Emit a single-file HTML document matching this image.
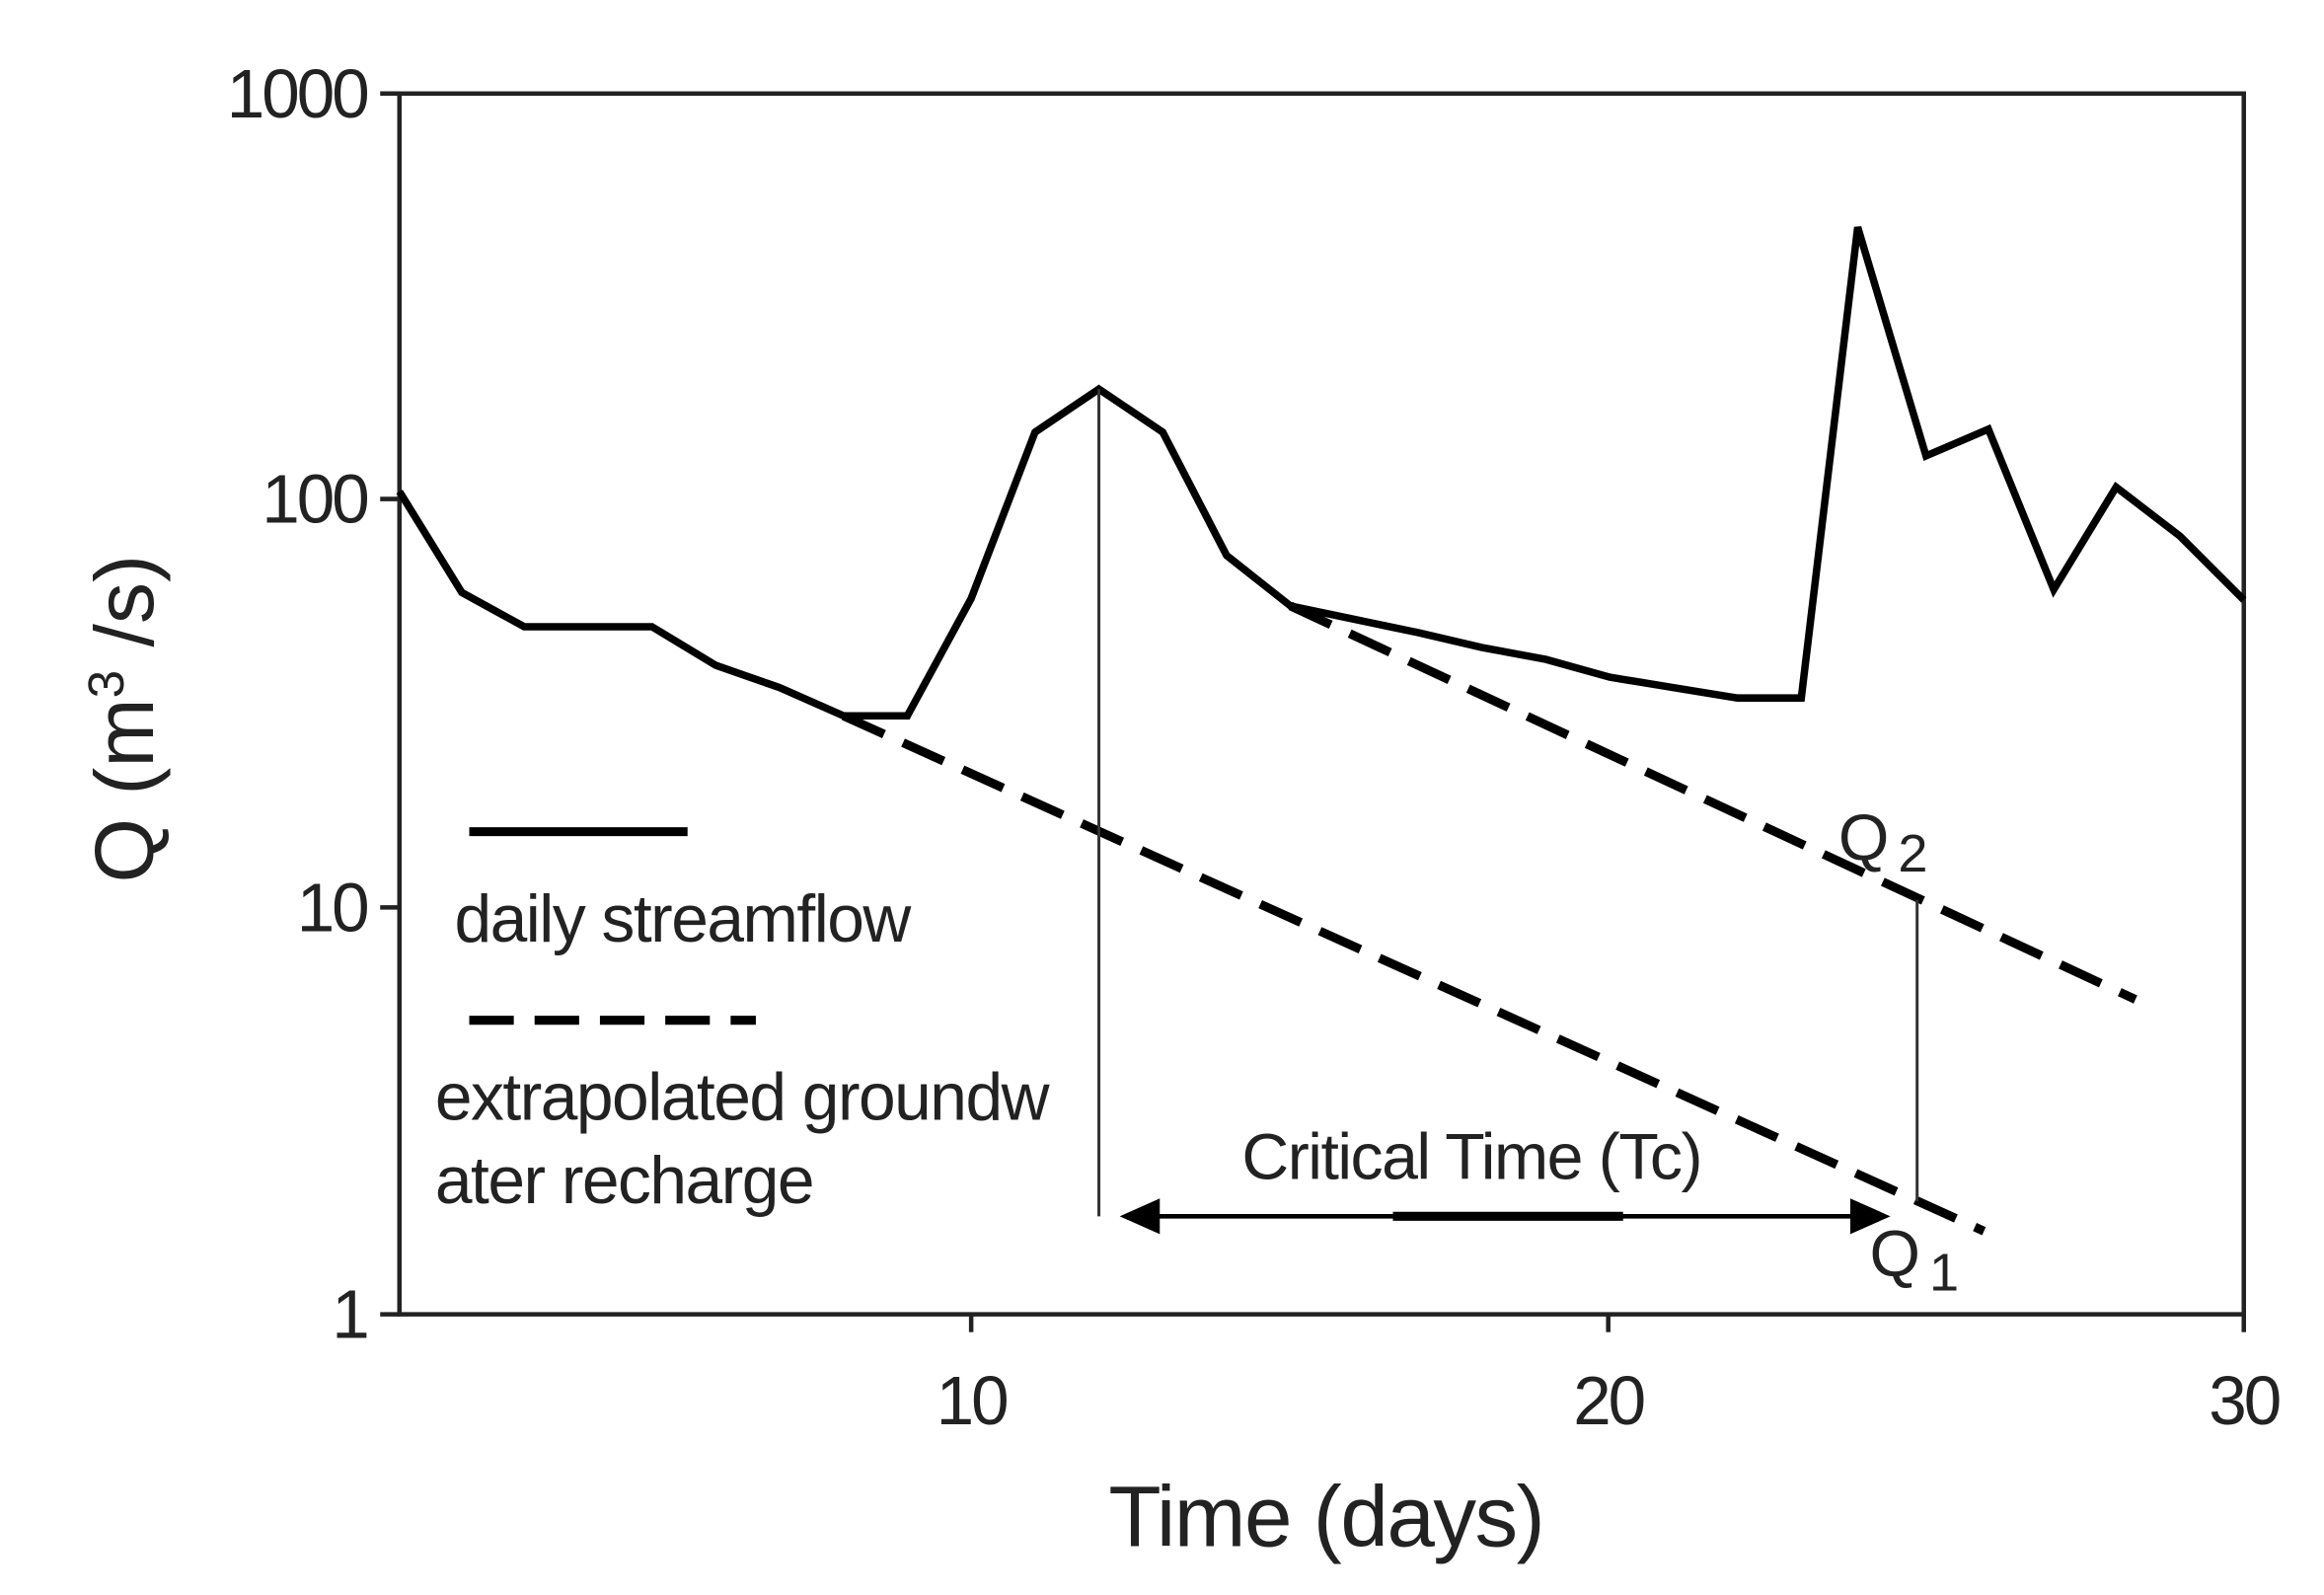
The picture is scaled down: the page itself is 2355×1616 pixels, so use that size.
<!DOCTYPE html>
<html><head><meta charset="utf-8"><style>
html,body{margin:0;padding:0;background:#fff;}
svg{display:block;}
text{font-family:"Liberation Sans",sans-serif;fill:#222;}
</style></head><body>
<svg width="2355" height="1616" viewBox="-1 -1 1565 1074" preserveAspectRatio="none" xmlns="http://www.w3.org/2000/svg">
<rect x="-1" y="-1" width="1565" height="1074" fill="#fff"/>
<rect x="268" y="62" width="1242" height="822" fill="none" stroke="#222" stroke-width="3"/>
<g stroke="#222" stroke-width="3">
<line x1="255" y1="62" x2="268" y2="62"/>
<line x1="255" y1="335" x2="268" y2="335"/>
<line x1="255" y1="610" x2="268" y2="610"/>
<line x1="255" y1="884" x2="268" y2="884"/>
<line x1="653" y1="884" x2="653" y2="896"/>
<line x1="1082" y1="884" x2="1082" y2="896"/>
<line x1="1510" y1="884" x2="1510" y2="896"/>
</g>
<g font-size="46" text-anchor="end" letter-spacing="-2">
<text x="246" y="78">1000</text>
<text x="246" y="351">100</text>
<text x="246" y="626">10</text>
<text x="246" y="900">1</text>
</g>
<g font-size="46" text-anchor="middle" letter-spacing="-2">
<text x="653" y="958">10</text>
<text x="1082" y="958">20</text>
<text x="1510" y="958">30</text>
</g>
<text x="892" y="1040" font-size="58" text-anchor="middle" letter-spacing="-1">Time (days)</text>
<text transform="translate(102,483) rotate(-90)" font-size="56" text-anchor="middle">Q (m<tspan dy="-20" font-size="34">3</tspan><tspan dy="20"> /s)</tspan></text>
<polyline fill="none" stroke="#000" stroke-width="5" stroke-linejoin="miter" points="268,330 310,398 352,421 395,421 438,421 481,447 524,462 567,481 610,481 653,402 696,290 739,261 782,290 825,373 868,407 911,416 954,425 997,435 1040,443 1083,455 1126,462 1169,469 1212,469 1250,152 1296,306 1338,288 1382,396 1424,327 1467,360 1510,403"/>
<line x1="567" y1="481" x2="1335" y2="828" stroke="#000" stroke-width="6" stroke-dasharray="30,14"/>
<line x1="868" y1="407" x2="1437" y2="672" stroke="#000" stroke-width="6" stroke-dasharray="30,14"/>
<line x1="739" y1="261" x2="739" y2="818" stroke="#333" stroke-width="2"/>
<line x1="1290" y1="605" x2="1290" y2="808" stroke="#333" stroke-width="2"/>
<line x1="770" y1="818" x2="1250" y2="818" stroke="#000" stroke-width="3"/>
<line x1="937" y1="818" x2="1092" y2="818" stroke="#000" stroke-width="6"/>
<polygon points="753,818 780,806 780,830" fill="#000"/>
<polygon points="1272,818 1245,806 1245,830" fill="#000"/>
<text x="990" y="793" font-size="44" text-anchor="middle" letter-spacing="-1">Critical Time (Tc)</text>
<text x="1237" y="578" font-size="44">Q<tspan dx="6" dy="8" font-size="36">2</tspan></text>
<text x="1258" y="858" font-size="44">Q<tspan dx="6" dy="10" font-size="36">1</tspan></text>
<line x1="315" y1="559" x2="462" y2="559" stroke="#000" stroke-width="6"/>
<text x="305" y="633" font-size="45" letter-spacing="-1">daily streamflow</text>
<line x1="315" y1="686" x2="508" y2="686" stroke="#000" stroke-width="6" stroke-dasharray="30,14"/>
<text x="292" y="753" font-size="45" letter-spacing="-1">extrapolated groundw</text>
<text x="292" y="809" font-size="45" letter-spacing="-1">ater recharge</text>
</svg>
</body></html>
